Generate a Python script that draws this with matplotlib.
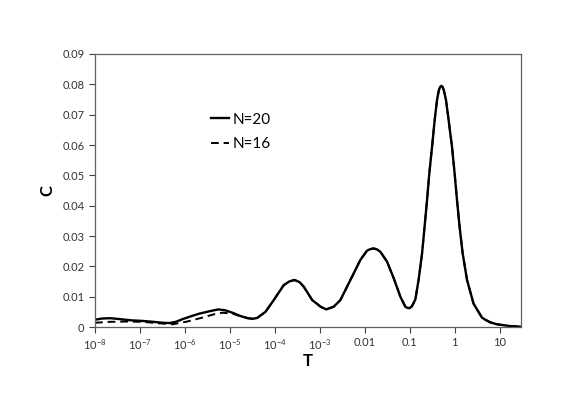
import numpy as np
import matplotlib
matplotlib.use("Agg")
import matplotlib.pyplot as plt

# values (T on a log axis, C linear)
T_n20 = [1e-8, 1.45e-8, 2.24e-8, 3.55e-8, 6.3e-8, 1.15e-7, 2.0e-7, 3.16e-7, 4.47e-7,
         6.3e-7, 8.9e-7, 1.41e-6, 2.09e-6, 3.55e-6, 5.5e-6, 7.9e-6, 1.15e-5, 1.74e-5,
         2.51e-5, 3.24e-5,
         4.07e-5, 6.2e-5, 9.5e-5, 1.58e-4, 2.09e-4, 2.74e-4, 3.55e-4, 4.4e-4, 6.78e-4,
         1.04e-3, 1.39e-3, 2.05e-3, 2.88e-3, 4.81e-3, 8.0e-3, 1.13e-2, 1.35e-2,
         1.585e-2, 1.86e-2, 2.23e-2, 3.15e-2, 4.41e-2, 6.21e-2, 8.0e-2, 0.0891,
         0.0984, 0.112, 0.134, 0.158, 0.189, 0.215, 0.244, 0.274, 0.315, 0.36, 0.406,
         0.447, 0.479, 0.506, 0.537, 0.575, 0.644, 0.736, 0.875, 1.0, 1.13, 1.29,
         1.51, 1.89, 2.64, 4.06, 4.81, 6.3, 8.7, 17.4, 30.0]
C_n20 = [0.0024, 0.0028, 0.0029, 0.0026, 0.0022, 0.0020, 0.0017, 0.0014, 0.0013,
         0.0017, 0.0026, 0.0036, 0.0044, 0.0052, 0.0058, 0.0055, 0.0047, 0.0036,
         0.0029, 0.0027,
         0.0030, 0.0050, 0.0089, 0.0138, 0.0150, 0.0155, 0.0148, 0.0133, 0.0089,
         0.0067, 0.0058, 0.0067, 0.0089, 0.0155, 0.0221, 0.0252, 0.0257,
         0.0259, 0.0256, 0.0248, 0.0215, 0.0161, 0.0100, 0.0067, 0.0063,
         0.0062, 0.0068, 0.0091, 0.0155, 0.0243, 0.0331, 0.0419, 0.0507, 0.0594,
         0.0682, 0.0748,
         0.0781, 0.0792, 0.0795, 0.0792, 0.0781, 0.0748, 0.0682, 0.0594, 0.0507,
         0.0419, 0.0331,
         0.0243, 0.0155, 0.0077, 0.0031, 0.0024, 0.0015, 0.0009, 0.0003, 0.0001]

T_n16 = [1e-8, 2.1e-8, 5.0e-8, 1.15e-7, 2.7e-7, 5.4e-7, 1.05e-6, 2.45e-6,
         4.47e-6, 6.9e-6, 1.15e-5, 1.74e-5, 2.51e-5, 3.24e-5]
C_n16 = [0.0014, 0.0017, 0.0018, 0.0017, 0.0012, 0.0009, 0.0017, 0.0031,
         0.0042, 0.0047, 0.0044, 0.0035, 0.0029, 0.0027]
# from ~4e-5 on the N=16 curve lies on the N=20 one
T_n16 = T_n16 + T_n20[20:]
C_n16 = C_n16 + C_n20[20:]

x_ticks = [1e-8, 1e-7, 1e-6, 1e-5, 1e-4, 1e-3, 0.01, 0.1, 1, 10]
x_tick_labels = ["$10^{-8}$", "$10^{-7}$", "$10^{-6}$", "$10^{-5}$", "$10^{-4}$",
                 "$10^{-3}$", "0.01", "0.1", "1", "10"]
y_ticks = [0, 0.01, 0.02, 0.03, 0.04, 0.05, 0.06, 0.07, 0.08, 0.09]
y_tick_labels = ["0", "0.01", "0.02", "0.03", "0.04", "0.05", "0.06", "0.07", "0.08", "0.09"]

plt.rcParams.update({
    "font.family": ["Lato", "DejaVu Sans"],
    "mathtext.fontset": "custom",
    "mathtext.rm": "Lato",
    "mathtext.default": "regular",
})

fig = plt.figure(figsize=(5.88, 4.15), dpi=100)
ax = fig.add_axes([95 / 588, 1 - 327 / 415, 426 / 588, 273 / 415])

ax.plot(T_n20, C_n20, color="black", lw=1.7, label="N=20", solid_joinstyle="round")
ax.plot(T_n16, C_n16, color="black", lw=1.4, ls=(0, (4, 2.5)), label="N=16")

ax.set_xscale("log")
ax.set_xlim(1e-8, 30)
ax.set_ylim(0, 0.09)
ax.set_xticks(x_ticks)
ax.set_xticklabels(x_tick_labels)
ax.minorticks_off()
ax.set_yticks(y_ticks)
ax.set_yticklabels(y_tick_labels)
ax.tick_params(labelsize=8, colors="#404040", length=4, width=0.8, labelcolor="#333333")
for s in ax.spines.values():
    s.set_color("#606060")
    s.set_linewidth(0.9)

ax.set_xlabel("T", fontsize=12, fontweight="bold", labelpad=1)
ax.set_ylabel("C", fontsize=12, fontweight="bold", labelpad=5)

ax.legend(loc="center left", bbox_to_anchor=((211 - 95) / 426, 1 - 78 / 273),
          frameon=False, fontsize=11, handlelength=1.2, handletextpad=0.2,
          borderpad=0, borderaxespad=0, labelspacing=0.7)

fig.savefig("out.png", dpi=100)
